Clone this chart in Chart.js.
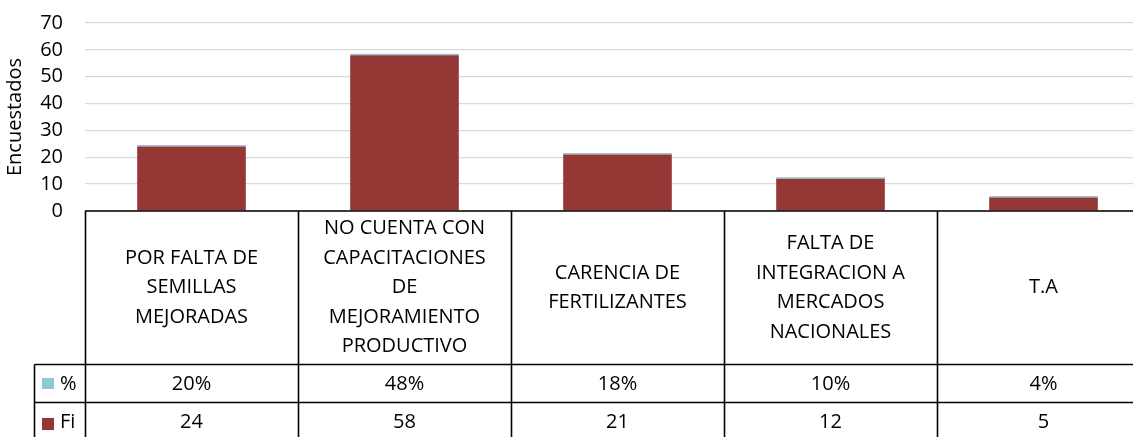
<!DOCTYPE html>
<html>
<head>
<meta charset="utf-8">
<script src="https://cdn.jsdelivr.net/npm/chart.js@4.4.1/dist/chart.umd.min.js"></script>
<style>
  html, body { margin: 0; padding: 0; background: #fff; overflow: hidden; }
  canvas { display: block; }
</style>
</head>
<body>
<canvas id="chart" width="1165" height="437"></canvas>
<script>
(function () {
  'use strict';

  // ── Data ────────────────────────────────────────────────
  var categories = [
    ['POR FALTA DE', 'SEMILLAS', 'MEJORADAS'],
    ['NO CUENTA CON', 'CAPACITACIONES', 'DE', 'MEJORAMIENTO', 'PRODUCTIVO'],
    ['CARENCIA DE', 'FERTILIZANTES'],
    ['FALTA DE', 'INTEGRACION A', 'MERCADOS', 'NACIONALES'],
    ['T.A']
  ];
  var fiValues  = [24, 58, 21, 12, 5];
  var pctValues = [0.20, 0.48, 0.18, 0.10, 0.04];
  var yTicks    = [0, 10, 20, 30, 40, 50, 60, 70];

  var FI_COLOR  = '#953735';
  var PCT_COLOR = '#93c6d9';
  var FONT      = '"Open Sans", sans-serif';

  function pctText(v) { return Math.round(v * 100) + '%'; }

  // ── Data table below the plot ───────────────────────────
  var dataTable = {
    id: 'dataTable',
    afterDraw: function (chart) {
      var ctx  = chart.ctx;
      var x    = chart.scales.x;
      var area = chart.chartArea;
      var n    = categories.length;
      var cw   = (area.right - area.left) / n;
      var top  = area.bottom;
      var catBottom = 364.5;
      var pctBottom = 402.5;
      var bottom = chart.height + 2;
      var legLeft = 34.5;

      ctx.save();
      ctx.strokeStyle = '#000';
      ctx.lineWidth = 1.6;

      ctx.beginPath();
      ctx.moveTo(area.left, top); ctx.lineTo(chart.width, top);
      ctx.moveTo(legLeft, catBottom); ctx.lineTo(chart.width, catBottom);
      ctx.moveTo(legLeft, pctBottom); ctx.lineTo(chart.width, pctBottom);
      ctx.moveTo(legLeft, catBottom); ctx.lineTo(legLeft, bottom);
      for (var i = 0; i <= n; i++) {
        var bx = Math.round(area.left + i * cw) + 0.5;
        ctx.moveTo(bx, top); ctx.lineTo(bx, bottom);
      }
      ctx.stroke();

      ctx.fillStyle = '#000';
      ctx.font = '20px ' + FONT;
      ctx.textAlign = 'center';
      ctx.textBaseline = 'middle';
      var lh = 29.5;
      var catMid = (top + catBottom) / 2;
      categories.forEach(function (lines, i) {
        var cx = x.getPixelForValue(i);
        var y0 = catMid - (lines.length - 1) * lh / 2;
        lines.forEach(function (ln, j) { ctx.fillText(ln, cx, y0 + j * lh); });
        ctx.fillText(pctText(pctValues[i]), cx, (catBottom + pctBottom) / 2 + 1);
        ctx.fillText(String(fiValues[i]), cx, pctBottom + 20);
      });

      // legend keys
      ctx.fillStyle = PCT_COLOR;
      ctx.fillRect(42, 378, 12, 11);
      ctx.fillStyle = FI_COLOR;
      ctx.fillRect(42, 418, 12, 12);
      ctx.fillStyle = '#000';
      ctx.textAlign = 'left';
      ctx.fillText('%', 60, (catBottom + pctBottom) / 2 + 1);
      ctx.fillText('Fi', 60, pctBottom + 20);
      ctx.restore();
    }
  };

  new Chart(document.getElementById('chart'), {
    type: 'bar',
    data: {
      labels: categories.map(function (c) { return c.join(' '); }),
      datasets: [
        { label: 'Fi', data: fiValues, backgroundColor: FI_COLOR, stack: 's',
          barPercentage: 0.51, categoryPercentage: 1 },
        { label: '%', data: pctValues, backgroundColor: PCT_COLOR, stack: 's',
          barPercentage: 0.51, categoryPercentage: 1, minBarLength: 1.5 }
      ]
    },
    options: {
      responsive: false,
      animation: false,
      layout: { padding: { top: 23, right: 15, bottom: 226, left: 0 } },
      plugins: { legend: { display: false }, tooltip: { enabled: false } },
      scales: {
        x: {
          stacked: true,
          afterFit: function (s) { s.height = 0; },
          grid: { display: false },
          border: { display: false },
          ticks: { display: false }
        },
        y: {
          stacked: true,
          min: 0,
          max: 70,
          afterFit: function (s) { s.width = 85; s.paddingTop = 0; s.paddingBottom = 0; },
          afterBuildTicks: function (s) {
            s.ticks = yTicks.map(function (v) { return { value: v }; });
          },
          grid: { color: '#d9d9d9', lineWidth: 1.3, drawTicks: false },
          border: { display: false },
          ticks: { autoSkip: false, padding: 22, color: '#000', font: { family: FONT, size: 20 } },
          title: {
            display: true,
            text: 'Encuestados',
            color: '#000',
            font: { family: FONT, size: 20 },
            padding: { top: 3, bottom: 0 }
          }
        }
      }
    },
    plugins: [dataTable]
  });
}());
</script>
</body>
</html>
